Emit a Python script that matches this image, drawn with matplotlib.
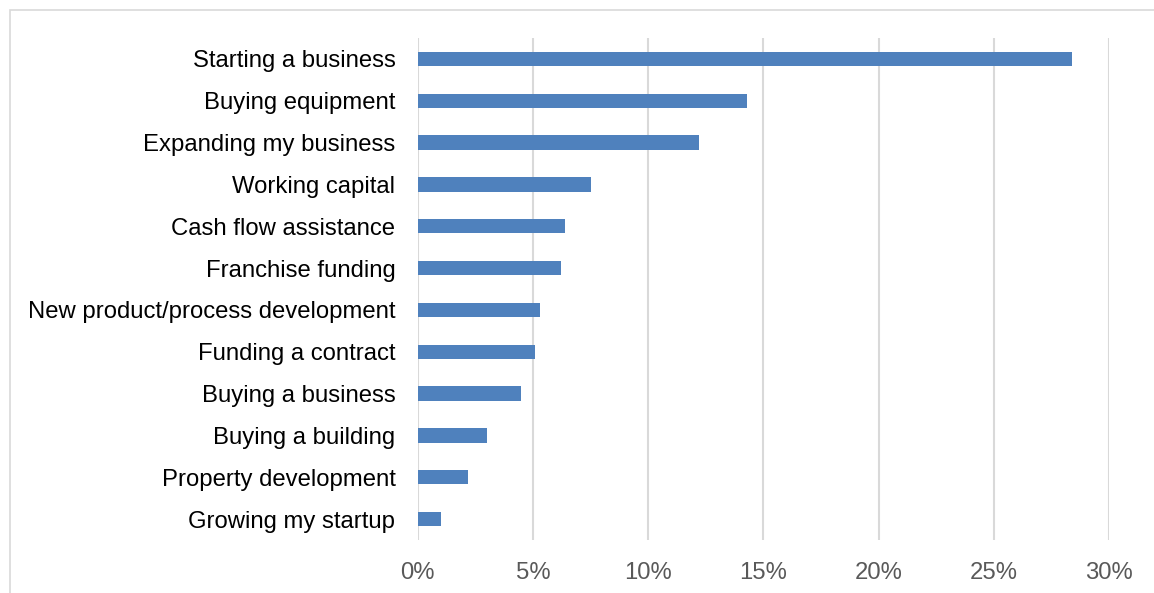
import matplotlib
matplotlib.use("Agg")
import matplotlib.pyplot as plt
from matplotlib.patches import Rectangle
from matplotlib.ticker import FuncFormatter

categories = [
    "Starting a business",
    "Buying equipment",
    "Expanding my business",
    "Working capital",
    "Cash flow assistance",
    "Franchise funding",
    "New product/process development",
    "Funding a contract",
    "Buying a business",
    "Buying a building",
    "Property development",
    "Growing my startup",
]
shares = [28.4, 14.3, 12.2, 7.5, 6.4, 6.2, 5.3, 5.1, 4.5, 3.0, 2.2, 1.0]
x_ticks = [0, 5, 10, 15, 20, 25, 30]

plt.rcParams["font.family"] = ["Liberation Sans", "DejaVu Sans"]

fig = plt.figure(figsize=(11.54, 5.93), dpi=100)
W, H = 1154, 593
ax = fig.add_axes([417.7 / W, 1 - 540 / H, (1109 - 417.7) / W, (540 - 38) / H])

pos = list(range(len(categories)))[::-1]
ax.barh(pos, shares, height=0.34, color="#4F81BD", zorder=3)

ax.set_xlim(0, 30)
ax.set_ylim(-0.5, len(categories) - 0.5)
ax.set_xticks(x_ticks)
ax.xaxis.set_major_formatter(FuncFormatter(lambda v, _: f"{v:.0f}%"))
ax.set_yticks(pos)
ax.set_yticklabels(categories)

ax.grid(axis="x", color="#D9D9D9", linewidth=1.5, zorder=0)
ax.grid(axis="y", visible=False)
for s in ax.spines.values():
    s.set_visible(False)
ax.tick_params(axis="both", length=0)
ax.tick_params(axis="y", labelsize=17.2, colors="#000000", pad=16)
ax.tick_params(axis="x", labelsize=17.2, labelcolor="#595959", pad=16)

# outer chart border
fig.add_artist(Rectangle((10 / W, -0.05), 1.2, 1 - 9.5 / H + 0.05,
                         transform=fig.transFigure, fill=False,
                         edgecolor="#D9D9D9", linewidth=1.2))

fig.savefig("out.png", dpi=100)
